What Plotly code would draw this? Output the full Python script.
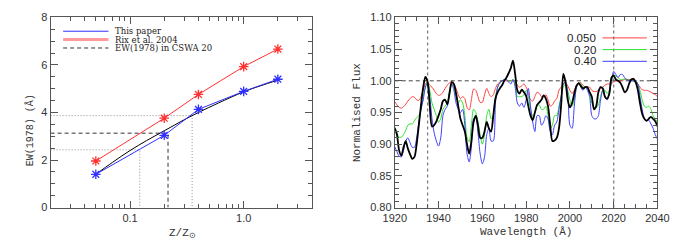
import plotly.graph_objects as go

# ---------------- Left panel data ----------------
z_vals = [0.05, 0.2, 0.4, 1.0, 2.0]
ew_this_paper = [1.40, 3.04, 4.13, 4.89, 5.40]
ew_rix2004 = [1.96, 3.76, 4.76, 5.93, 6.67]
z_fit = [0.05, 0.07, 0.1, 0.14, 0.2, 0.28, 0.4, 0.6, 1.0, 1.4, 2.0]
ew_fit = [1.40, 1.90, 2.40, 2.82, 3.23, 3.62, 4.00, 4.40, 4.87, 5.12, 5.36]
z_range = [0.02, 4.0]
ew_range = [0, 8]
cswa_z, cswa_ew = 0.216, 3.13
cswa_z_lo, cswa_ew_lo = 0.1217, 2.43
cswa_z_hi, cswa_ew_hi = 0.352, 3.87
left_xtick_vals = [0.1, 1.0]
left_xtick_text = ["0.1", "1.0"]
left_xminor = [0.03, 0.04, 0.05, 0.06, 0.07, 0.08, 0.09,
               0.2, 0.3, 0.4, 0.5, 0.6, 0.7, 0.8, 0.9, 2, 3, 4]

# ---------------- Right panel data ----------------
wl_start, wl_step = 1920, 1
flux_obs = [
    0.925, 0.915, 0.890, 0.882, 0.895, 0.905, 0.893, 0.884, 0.877, 0.880,
    0.900, 0.930, 0.962, 0.990, 1.006, 0.998, 0.960, 0.928, 0.930, 0.936,
    0.945, 0.955, 0.968, 0.970, 0.963, 0.980, 0.998, 0.995, 0.980, 0.960,
    0.940, 0.930, 0.920, 0.900, 0.885, 0.905, 0.935, 0.945, 0.930, 0.910,
    0.910, 0.920, 0.935, 0.925, 0.920, 0.945, 0.972, 0.982, 0.988, 0.993,
    1.000, 1.005, 1.012, 1.020, 1.032, 1.010, 0.985, 0.980, 0.986, 0.982,
    0.976, 0.960, 0.945, 0.938, 0.950, 0.962, 0.966, 0.970, 0.977, 0.972,
    0.960, 0.930, 0.905, 0.906, 0.910, 0.925, 0.962, 1.011, 0.998, 0.970,
    0.958, 0.965, 0.980, 0.992, 0.996, 0.992, 0.988, 0.990, 0.990, 0.982,
    0.975, 0.955, 0.960, 0.982, 0.990, 0.988, 0.975, 0.972, 0.980, 1.005,
    1.008, 1.002, 1.000, 0.997, 0.990, 0.982, 0.985, 0.995, 1.002, 1.003,
    0.998, 0.986, 0.965, 0.948, 0.940, 0.937, 0.940, 0.943, 0.940, 0.936,
    0.928]
flux_z050 = [
    0.967, 0.962, 0.958, 0.957, 0.959, 0.963, 0.968, 0.972, 0.975, 0.974,
    0.970, 0.969, 0.975, 0.985, 0.995, 0.998, 0.993, 0.990, 0.985, 0.980,
    0.977, 0.978, 0.982, 0.988, 0.993, 0.997, 0.999, 0.995, 0.988, 0.978,
    0.972, 0.975, 0.972, 0.958, 0.954, 0.970, 0.987, 0.985, 0.975, 0.966,
    0.966, 0.978, 0.988, 0.980, 0.975, 0.978, 0.988, 0.995, 0.998, 1.000,
    1.000, 1.000, 1.000, 1.000, 1.000, 0.998, 0.993, 0.990, 0.992, 0.995,
    0.990, 0.980, 0.970, 0.968, 0.975, 0.982, 0.980, 0.975, 0.975, 0.978,
    0.970, 0.960, 0.962, 0.968, 0.972, 0.985, 0.990, 0.995, 0.997, 0.992,
    0.985, 0.980, 0.985, 0.993, 0.997, 0.997, 0.993, 0.990, 0.990, 0.990,
    0.985, 0.983, 0.983, 0.985, 0.988, 0.990, 0.993, 0.995, 0.995, 0.996,
    0.998, 1.000, 1.000, 1.000, 1.001, 1.002, 1.002, 1.002, 1.001, 1.000,
    0.998, 0.995, 0.990, 0.986, 0.985, 0.985, 0.984, 0.982, 0.980, 0.978,
    0.975]
flux_z020 = [
    0.928, 0.918, 0.911, 0.911, 0.915, 0.922, 0.930, 0.932, 0.932, 0.937,
    0.942, 0.945, 0.955, 0.975, 0.990, 0.998, 0.985, 0.965, 0.955, 0.945,
    0.935, 0.940, 0.955, 0.960, 0.965, 0.985, 0.995, 0.990, 0.975, 0.965,
    0.970, 0.965, 0.945, 0.910, 0.904, 0.930, 0.955, 0.950, 0.935, 0.915,
    0.900, 0.915, 0.945, 0.955, 0.940, 0.945, 0.975, 0.990, 0.997, 1.000,
    1.002, 1.002, 1.000, 1.000, 1.002, 0.995, 0.975, 0.975, 0.975, 0.978,
    0.985, 0.975, 0.955, 0.945, 0.950, 0.960, 0.962, 0.955, 0.955, 0.960,
    0.945, 0.925, 0.930, 0.945, 0.945, 0.960, 0.975, 0.990, 0.995, 0.985,
    0.970, 0.960, 0.970, 0.990, 0.997, 0.995, 0.990, 0.990, 0.988, 0.980,
    0.965, 0.958, 0.958, 0.962, 0.975, 0.985, 0.985, 0.980, 0.985, 0.998,
    1.008, 1.008, 1.005, 1.002, 1.002, 1.003, 1.002, 1.001, 1.000, 1.000,
    1.000, 0.995, 0.985, 0.970, 0.960, 0.958, 0.960, 0.955, 0.945, 0.940,
    0.935]
flux_z040 = [
    0.896, 0.888, 0.881, 0.880, 0.890, 0.905, 0.910, 0.902, 0.895, 0.895,
    0.910, 0.935, 0.955, 0.970, 0.990, 0.997, 0.975, 0.940, 0.918, 0.905,
    0.897, 0.910, 0.945, 0.955, 0.960, 0.980, 0.995, 0.985, 0.965, 0.955,
    0.950, 0.955, 0.930, 0.885, 0.872, 0.895, 0.940, 0.942, 0.918, 0.885,
    0.869, 0.880, 0.915, 0.925, 0.905, 0.905, 0.965, 0.990, 0.997, 1.000,
    1.002, 1.002, 0.998, 0.995, 1.002, 0.990, 0.965, 0.960, 0.965, 0.958,
    0.970, 0.988, 0.960, 0.935, 0.920, 0.945, 0.945, 0.930, 0.935, 0.945,
    0.940, 0.920, 0.915, 0.930, 0.935, 0.955, 0.975, 0.995, 0.998, 0.980,
    0.930, 0.925, 0.960, 0.990, 0.997, 0.990, 0.985, 0.990, 0.985, 0.975,
    0.945, 0.940, 0.940, 0.945, 0.970, 0.985, 0.975, 0.970, 0.980, 1.000,
    1.015, 1.010, 1.005, 1.010, 1.010, 1.005, 1.002, 1.000, 1.000, 1.000,
    1.000, 0.995, 0.975, 0.955, 0.940, 0.937, 0.938, 0.932, 0.925, 0.915,
    0.908]
wavelength = [wl_start + i * wl_step for i in range(len(flux_obs))]
model_labels = ["0.050", "0.20", "0.40"]
model_colors = ["#ff4040", "#30e030", "#4040ff"]
marker_wavelengths = [1935, 2020]
continuum_level = 1.00

# ---------------- Figure ----------------
W, H = 683, 251
fig = go.Figure()

BLUE = "#3030ff"
RED = "#ff3030"
AXC = "#555555"

# Left panel guides
fig.add_trace(go.Scatter(x=[z_range[0], cswa_z, cswa_z], y=[cswa_ew, cswa_ew, 0],
                         mode="lines", line=dict(color="#333333", width=1, dash="4px,3px"),
                         xaxis="x", yaxis="y", showlegend=False, hoverinfo="skip"))
for zz, ee in [(cswa_z_lo, cswa_ew_lo), (cswa_z_hi, cswa_ew_hi)]:
    fig.add_trace(go.Scatter(x=[z_range[0], zz, zz], y=[ee, ee, 0],
                             mode="lines", line=dict(color="#909090", width=1, dash="1px,2px"),
                             xaxis="x", yaxis="y", showlegend=False, hoverinfo="skip"))

fig.add_trace(go.Scatter(x=z_fit, y=ew_fit, mode="lines", line=dict(color="#000000", width=1, shape="spline"),
                         xaxis="x", yaxis="y", showlegend=False))
fig.add_trace(go.Scatter(x=z_vals, y=ew_rix2004, mode="lines+markers",
                         line=dict(color=RED, width=1),
                         marker=dict(symbol="asterisk-open", size=8, line=dict(color=RED, width=1.3)),
                         xaxis="x", yaxis="y", showlegend=False))
fig.add_trace(go.Scatter(x=z_vals, y=ew_this_paper, mode="lines+markers",
                         line=dict(color=BLUE, width=1),
                         marker=dict(symbol="asterisk-open", size=8, line=dict(color=BLUE, width=1.3)),
                         xaxis="x", yaxis="y", showlegend=False))

# Right panel
for lab, col, fl in zip(model_labels, model_colors, [flux_z050, flux_z020, flux_z040]):
    fig.add_trace(go.Scatter(x=wavelength, y=fl, mode="lines",
                             line=dict(color=col, width=1, shape="spline", smoothing=0.8),
                             xaxis="x2", yaxis="y2", showlegend=False, name=lab))
fig.add_trace(go.Scatter(x=wavelength, y=flux_obs, mode="lines",
                         line=dict(color="#000000", width=1.8, shape="spline", smoothing=0.8),
                         xaxis="x2", yaxis="y2", showlegend=False))

shapes = []
for wl in marker_wavelengths:
    shapes.append(dict(type="line", xref="x2", yref="y2 domain", x0=wl, x1=wl, y0=0, y1=1,
                       line=dict(color="#808080", width=1.3, dash="3px,3px"), layer="below"))
shapes.append(dict(type="line", xref="x2 domain", yref="y2", x0=0, x1=1,
                   y0=continuum_level, y1=continuum_level,
                   line=dict(color="#444444", width=1, dash="4px,3px"), layer="below"))

annotations = []

# Left legend (drawn keys)
left_leg = [("This paper", BLUE, 1, "solid"), ("Rix et al. 2004", "#ff9a9a", 3, "solid"),
            ("EW(1978) in CSWA 20", "#333333", 1, "4px,3px")]
for i, (txt, col, wd, dsh) in enumerate(left_leg):
    yy = 1 - (26.5 + 8.8 * i) / H
    shapes.append(dict(type="line", xref="paper", yref="paper", x0=53 / W, x1=100 / W, y0=yy, y1=yy,
                       line=dict(color=col, width=wd, dash=dsh)))
    annotations.append(dict(text=txt, xref="paper", yref="paper", x=105 / W, y=yy,
                            xanchor="left", yanchor="middle", showarrow=False,
                            font=dict(family="DejaVu Serif", size=8.5, color="#222222")))

# Right legend
for i, (txt, col) in enumerate(zip(model_labels, model_colors)):
    yy = 1 - (33.5 + 12.3 * i) / H
    shapes.append(dict(type="line", xref="paper", yref="paper", x0=612 / W, x1=658 / W, y0=yy, y1=yy,
                       line=dict(color=col, width=1)))
    annotations.append(dict(text=txt, xref="paper", yref="paper", x=607 / W, y=yy,
                            xanchor="right", yanchor="middle", showarrow=False,
                            font=dict(family="Liberation Sans", size=11.5, color="#222222")))

TF = dict(family="Liberation Mono", size=11, color="#333333")
TF_small = dict(family="Liberation Mono", size=10, color="#333333")
annotations += [
    dict(text="EW(1978) (Å)", xref="paper", yref="paper", x=18 / W, y=1 - 130 / H, textangle=-90,
         showarrow=False, font=TF_small, xanchor="center", yanchor="middle"),
    dict(text="Z/Z<sub>⊙</sub>", xref="paper", yref="paper", x=177 / W, y=1 - 239 / H,
         showarrow=False, font=TF, xanchor="center", yanchor="middle"),
    dict(text="Normalised Flux", xref="paper", yref="paper", x=357 / W, y=1 - 112 / H, textangle=-90,
         showarrow=False, font=TF, xanchor="center", yanchor="middle"),
    dict(text="Wavelength (Å)", xref="paper", yref="paper", x=533 / W, y=1 - 237 / H,
         showarrow=False, font=TF, xanchor="center", yanchor="middle"),
]

TKF = dict(family="Liberation Sans", size=11, color="#333333")
ydom = [1 - 211.7 / H, 1 - 12 / H]
common = dict(showgrid=False, zeroline=False, showline=True, linecolor=AXC, linewidth=1,
              mirror="allticks", ticks="inside", tickcolor=AXC, tickfont=TKF)

fig.update_layout(
    width=W, height=H, margin=dict(l=0, r=0, t=0, b=0),
    paper_bgcolor="white", plot_bgcolor="white", showlegend=False,
    xaxis=dict(type="log", range=[-1.69897, 0.60206], domain=[40 / W, 311 / W], anchor="y",
               tickmode="array", tickvals=left_xtick_vals, ticktext=left_xtick_text, ticklen=7,
               minor=dict(tickmode="array", tickvals=left_xminor, ticks="inside", ticklen=4, tickcolor=AXC),
               **common),
    yaxis=dict(range=ew_range, domain=ydom, anchor="x", tickmode="linear", tick0=0, dtick=2, ticklen=7,
               minor=dict(dtick=0.5, ticks="inside", ticklen=4, tickcolor=AXC), **common),
    xaxis2=dict(range=[1920, 2040], domain=[396.7 / W, 669 / W], anchor="y2",
                tickmode="linear", tick0=1920, dtick=20, ticklen=7,
                minor=dict(dtick=5, ticks="inside", ticklen=4, tickcolor=AXC), **common),
    yaxis2=dict(range=[0.80, 1.10], domain=ydom, anchor="x2", tickmode="linear", tick0=0.8, dtick=0.05,
                tickformat=".2f", ticklen=7,
                minor=dict(dtick=0.01, ticks="inside", ticklen=4, tickcolor=AXC), **common),
    shapes=shapes, annotations=annotations,
)

fig.write_html("out.html", config={"displayModeBar": False},
               post_script="document.body.style.margin='0';document.body.style.overflow='hidden';")
